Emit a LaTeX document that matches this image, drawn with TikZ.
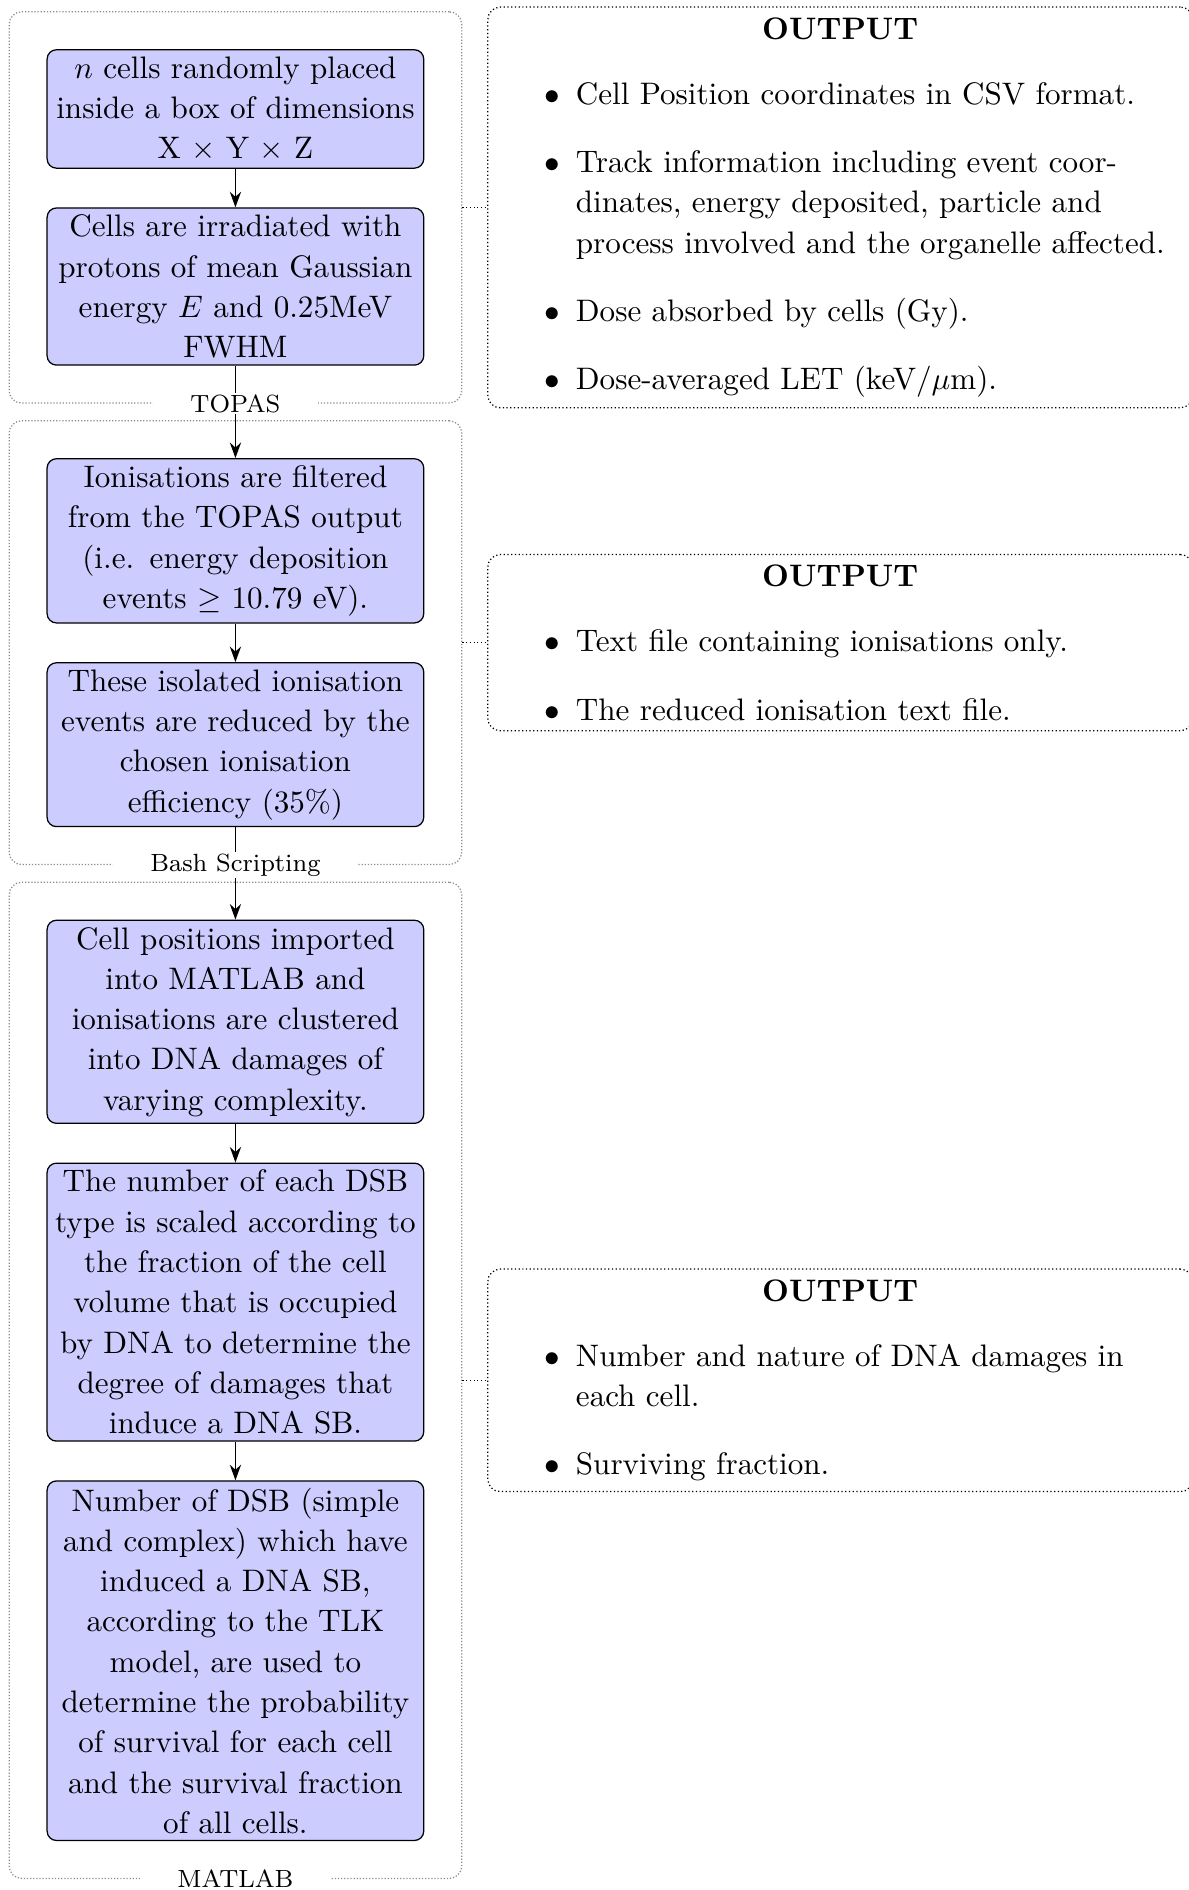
\documentclass[tikz,border=0pt]{standalone}
\usepackage{amsmath}
\usepackage{amssymb}
\usetikzlibrary{
  arrows.meta,
  positioning,
  fit
}
\definecolor{simStep}{HTML}{CCCCFF}
\definecolor{simFrame}{HTML}{8C8C8C}
\renewcommand{\labelitemi}{$\bullet$}
\tikzset{
  stepbox/.style={
    draw, fill=simStep, rounded corners=3pt, text width=117.5pt,
    inner xsep=1.8pt, inner ysep=2.2pt, align=center,
    font={\fontsize{10}{12.95}\selectfont}
  },
  toolgroup/.style={
    draw=simFrame, dash pattern=on .4pt off .6pt, rounded corners=4pt, inner sep=12pt
  },
  toollabel/.style={font=\footnotesize, fill=white, inner xsep=12pt, inner ysep=.5pt},
  outbox/.style={
    draw, dash pattern=on .4pt off .8pt, rounded corners=4pt, text width=220pt,
    align=left, font={\fontsize{10}{12.95}\selectfont}
  },
  flow/.style={-{Stealth[length=5pt, width=3.6pt]}, semithick},
  outlink/.style={dash pattern=on .4pt off .8pt}
}

\begin{document}
\begin{tikzpicture}[node distance=12.4pt]
  \useasboundingbox (0,0) rectangle (382.3pt,-607.7pt);
  % TOPAS stage
  \node[stepbox, anchor=north] (place) at (75.7pt,-15.8pt)
    {$n$ cells randomly placed\\inside a box of dimensions\\X $\times$ Y $\times$ Z};
  \node[stepbox, below=of place] (irradiate)
    {Cells are irradiated with\\protons of mean Gaussian\\energy $E$ and 0.25MeV\\FWHM};
  % bash stage
  \node[stepbox, below=29.7pt of irradiate] (filter)
    {Ionisations are filtered\\from the TOPAS output\\(i.e. energy deposition\\events $\geq$ 10.79 eV).};
  \node[stepbox, below=of filter] (reduce)
    {These isolated ionisation\\events are reduced by the\\chosen ionisation\\efficiency (35\%)};
  % MATLAB stage
  \node[stepbox, below=29.7pt of reduce] (cluster)
    {Cell positions imported\\into MATLAB and\\ionisations are clustered\\into DNA damages of\\varying complexity.};
  \node[stepbox, below=of cluster] (scale)
    {The number of each DSB\\type is scaled according to\\the fraction of the cell\\volume that is occupied\\by DNA to determine the\\degree of damages that\\induce a DNA SB.};
  \node[stepbox, below=of scale] (survival)
    {Number of DSB (simple\\and complex) which have\\induced a DNA SB,\\according to the TLK\\model, are used to\\determine the probability\\of survival for each cell\\and the survival fraction\\of all cells.};

  % tool frames
  \node[toolgroup, fit=(place)(irradiate)] (topas) {};
  \node[toolgroup, fit=(filter)(reduce)] (bash) {};
  \node[toolgroup, fit=(cluster)(scale)(survival)] (matlab) {};

  % outputs of each tool
  \node[outbox, right=8pt of topas] (topasout) {\hfil\textbf{OUTPUT}\hfil
    \begin{itemize}\setlength{\itemsep}{5pt}
      \item Cell Position coordinates in CSV format.
      \item Track information including event coor-\\dinates, energy deposited, particle and process involved and the organelle affected.
      \item Dose absorbed by cells (Gy).
      \item Dose-averaged LET (keV/$\mu$m).
    \end{itemize}};
  \node[outbox, right=8pt of bash] (bashout) {\hfil\textbf{OUTPUT}\hfil
    \begin{itemize}\setlength{\itemsep}{5pt}
      \item Text file containing ionisations only.
      \item The reduced ionisation text file.
    \end{itemize}};
  \node[outbox, right=8pt of matlab] (matlabout) {\hfil\textbf{OUTPUT}\hfil
    \begin{itemize}\setlength{\itemsep}{5pt}
      \item Number and nature of DNA damages in each cell.
      \item Surviving fraction.
    \end{itemize}};

  \draw[outlink] (topas) -- (topasout);
  \draw[outlink] (bash) -- (bashout);
  \draw[outlink] (matlab) -- (matlabout);

  % pipeline
  \draw[flow] (place) -- (irradiate);
  \draw[flow] (irradiate) -- (filter);
  \draw[flow] (filter) -- (reduce);
  \draw[flow] (reduce) -- (cluster);
  \draw[flow] (cluster) -- (scale);
  \draw[flow] (scale) -- (survival);

  % tool names sit on the frames, over the arrows
  \node[toollabel] (topaslbl) at (topas.south) {TOPAS};
  \node[toollabel] (bashlbl) at (bash.south) {Bash Scripting};
  \node[toollabel] (matlablbl) at (matlab.south) {MATLAB};
\end{tikzpicture}
\end{document}
